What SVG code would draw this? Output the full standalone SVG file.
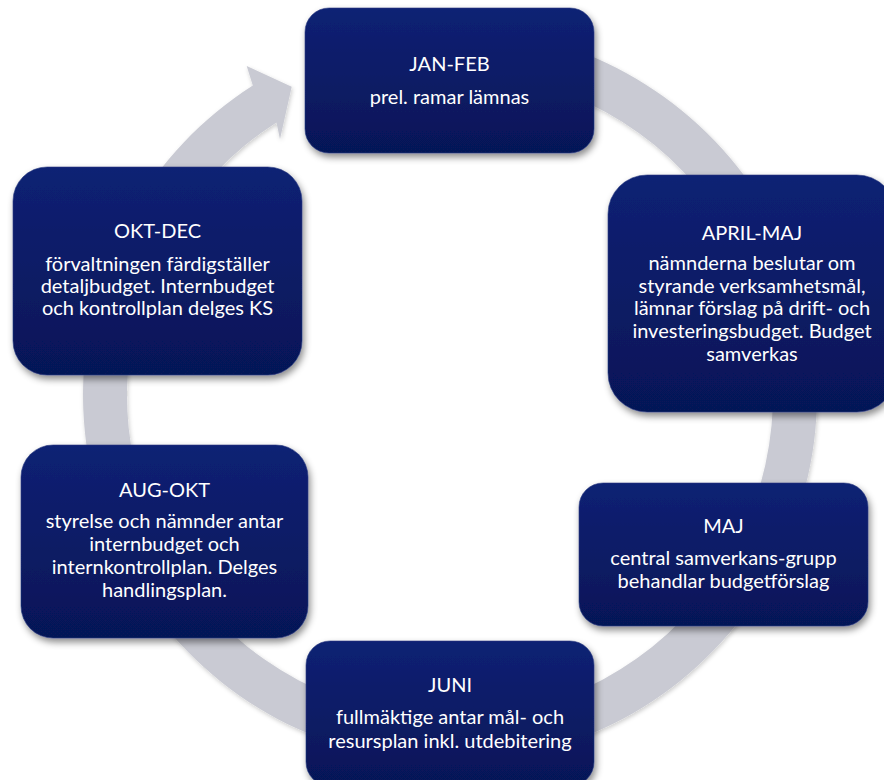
<svg xmlns="http://www.w3.org/2000/svg" width="884" height="780" viewBox="0 0 884 780">
<style>
.box{fill:url(#bg);filter:url(#sh);stroke:#2a3a80;stroke-width:0.6}
.t{font-family:Lato,"Open Sans","Liberation Sans",sans-serif;font-size:20px;fill:#ffffff;text-anchor:middle}
.ring{fill:#c9cad3;filter:url(#rs)}
</style>
<defs>
<linearGradient id="bg" x1="0" y1="0" x2="0" y2="1">
<stop offset="0" stop-color="#0c2174"/>
<stop offset="1" stop-color="#061657"/>
</linearGradient>
<filter id="sh" x="-10%" y="-10%" width="125%" height="130%">
<feDropShadow dx="2" dy="4" stdDeviation="3.5" flood-color="#000" flood-opacity="0.45"/>
</filter>
<filter id="rs" x="-5%" y="-5%" width="110%" height="110%">
<feDropShadow dx="1" dy="2" stdDeviation="2" flood-color="#000" flood-opacity="0.2"/>
</filter>
</defs>
<g id="connectors">
<path class="ring" d="M386.27 33.57 A367 367 0 1 1 252.81 85.48 L246.7 66 L291.7 86.7 L280 139.3 L276.45 122.58 A323 323 0 1 0 393.91 76.91 Z"/>
</g>
<g id="jan-feb">
<rect class="box" x="305" y="8" width="289" height="145" rx="24"/>
<text class="t" x="449.5" y="71">JAN-FEB</text>
<text class="t" x="449.5" y="104">prel. ramar lämnas</text>
</g>
<g id="april-maj">
<rect class="box" x="608" y="175" width="288" height="237" rx="39"/>
<text class="t" x="752" y="240">APRIL-MAJ</text>
<text class="t" x="752" y="270">nämnderna beslutar om</text>
<text class="t" x="752" y="292.7">styrande verksamhetsmål,</text>
<text class="t" x="752" y="315.4">lämnar förslag på drift- och</text>
<text class="t" x="752" y="338.1">investeringsbudget. Budget</text>
<text class="t" x="752" y="360.8">samverkas</text>
</g>
<g id="maj">
<rect class="box" x="579" y="483" width="289" height="143" rx="24"/>
<text class="t" x="723.5" y="533">MAJ</text>
<text class="t" x="723.5" y="565">central samverkans-grupp</text>
<text class="t" x="723.5" y="588">behandlar budgetförslag</text>
</g>
<g id="juni">
<rect class="box" x="306" y="641" width="288" height="145" rx="24"/>
<text class="t" x="450" y="692">JUNI</text>
<text class="t" x="450" y="724">fullmäktige antar mål- och</text>
<text class="t" x="450" y="748">resursplan inkl. utdebitering</text>
</g>
<g id="aug-okt">
<rect class="box" x="21" y="445" width="287" height="193" rx="32"/>
<text class="t" x="164.5" y="497">AUG-OKT</text>
<text class="t" x="164.5" y="528">styrelse och nämnder antar</text>
<text class="t" x="164.5" y="551">internbudget och</text>
<text class="t" x="164.5" y="574">internkontrollplan. Delges</text>
<text class="t" x="164.5" y="597">handlingsplan.</text>
</g>
<g id="okt-dec">
<rect class="box" x="13" y="167" width="289" height="208" rx="34"/>
<text class="t" x="157.5" y="238">OKT-DEC</text>
<text class="t" x="157.5" y="271">förvaltningen färdigställer</text>
<text class="t" x="157.5" y="293">detaljbudget. Internbudget</text>
<text class="t" x="157.5" y="315">och kontrollplan delges KS</text>
</g>
</svg>
